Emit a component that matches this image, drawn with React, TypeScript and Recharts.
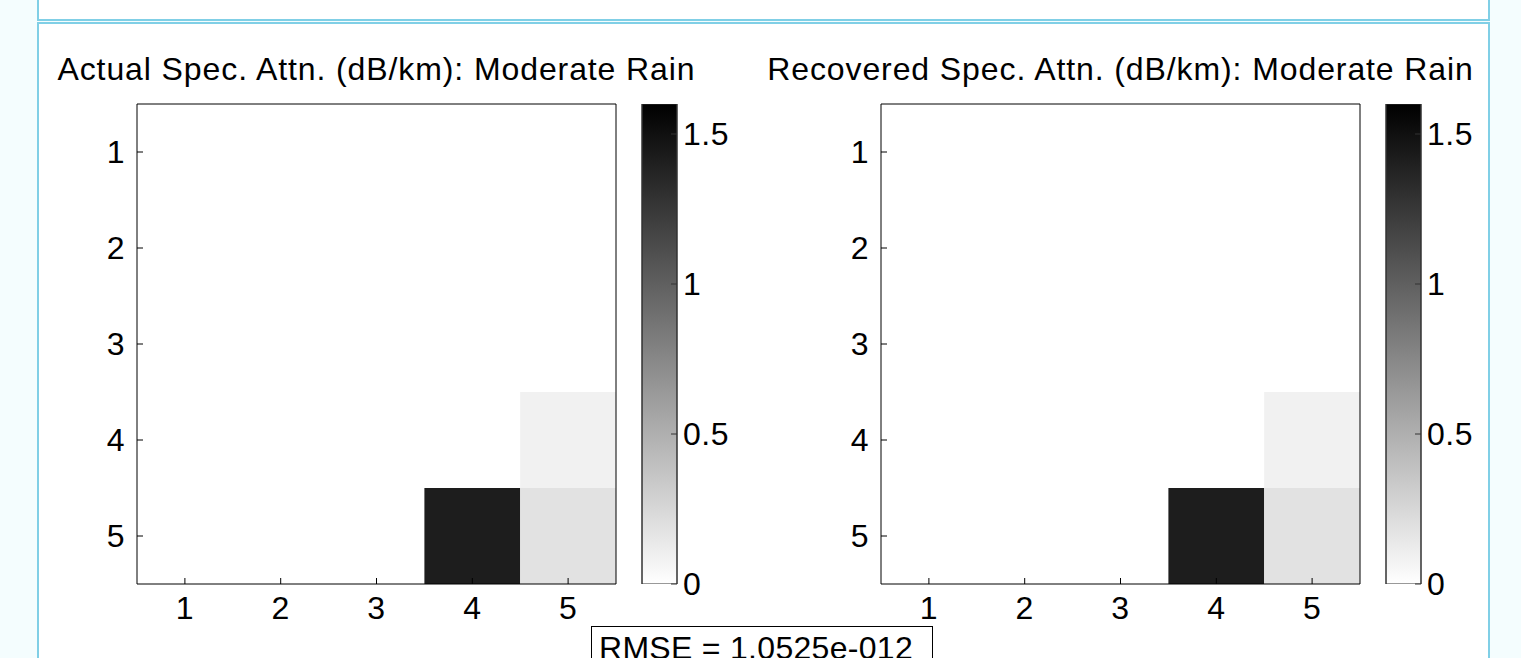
import React from 'react';
import {
  ScatterChart,
  Scatter,
  BarChart,
  Bar,
  XAxis,
  YAxis
} from 'recharts';

// grid positions (row = y index, col = x index)
const rowLabels = [1, 2, 3, 4, 5];
const colLabels = [1, 2, 3, 4, 5];

// specific attenuation (dB/km), rows top to bottom
const actualValues = [
  [0, 0, 0, 0, 0],
  [0, 0, 0, 0, 0],
  [0, 0, 0, 0, 0],
  [0, 0, 0, 0, 0.09],
  [0, 0, 0, 1.42, 0.18]
];

const recoveredValues = [
  [0, 0, 0, 0, 0],
  [0, 0, 0, 0, 0],
  [0, 0, 0, 0, 0],
  [0, 0, 0, 0, 0.09],
  [0, 0, 0, 1.42, 0.18]
];

// colour limits and colorbar ticks
const climMax = [1.6];
const colorbarTicks = [0, 0.5, 1, 1.5];

const rmseText = 'RMSE = 1.0525e-012';

const FONT = '"Liberation Sans", Arial, sans-serif';
const BLUE = '#80cfe6';

// plot box geometry
const PLOT_W = 479;
const PLOT_H = 480;
const CELL_W = PLOT_W / 5;
const CELL_H = PLOT_H / 5;
const MARGIN = { top: 103, right: 23, left: 77, bottom: 6 };

const gray = (v: number) => {
  const g = Math.round(255 * (1 - Math.min(v, climMax[0]) / climMax[0]));
  return `rgb(${g},${g},${g})`;
};

const toCells = (values: number[][]) =>
  values.flatMap((row, r) =>
    row.map((v, c) => ({ x: colLabels[c], y: rowLabels[r], v }))
  );

const tickStyle = { fontSize: 32, fill: '#000', fontFamily: FONT, letterSpacing: 0.5 };

const HeatCell = (props: any) => {
  const { cx, cy, payload } = props;
  return (
    <rect
      x={cx - CELL_W / 2}
      y={cy - CELL_H / 2}
      width={CELL_W}
      height={CELL_H}
      fill={gray(payload.v)}
      stroke="none"
    />
  );
};

// axes box drawn on its own so the cells do not hide the lines and ticks
const renderAxes = (visible: boolean) => [
  <XAxis
    key="b"
    xAxisId="b"
    dataKey="x"
    type="number"
    domain={[0.5, 5.5]}
    ticks={colLabels}
    orientation="bottom"
    height={50}
    tickSize={-6}
    tickMargin={18}
    tick={visible ? tickStyle : false}
    stroke="#000"
    axisLine={visible}
    tickLine={visible}
    allowDataOverflow
  />,
  <XAxis
    key="t"
    xAxisId="t"
    type="number"
    domain={[0.5, 5.5]}
    ticks={colLabels}
    orientation="top"
    height={1}
    tickSize={-6}
    tick={false}
    stroke="#000"
    axisLine={visible}
    tickLine={visible}
    allowDataOverflow
  />,
  <YAxis
    key="l"
    yAxisId="l"
    dataKey="y"
    type="number"
    domain={[0.5, 5.5]}
    ticks={rowLabels}
    reversed
    orientation="left"
    width={60}
    tickSize={-6}
    tickMargin={18}
    tick={visible ? tickStyle : false}
    stroke="#000"
    axisLine={visible}
    tickLine={visible}
    allowDataOverflow
  />,
  <YAxis
    key="r"
    yAxisId="r"
    type="number"
    domain={[0.5, 5.5]}
    ticks={rowLabels}
    reversed
    orientation="right"
    width={1}
    tickSize={-6}
    tick={false}
    stroke="#000"
    axisLine={visible}
    tickLine={visible}
    allowDataOverflow
  />
];

const Heatmap: React.FC<{ left: number; title: string; values: number[][] }> = ({ left, title, values }) => {
  const data = toCells(values);
  return (
    <>
      <div
        style={{
          position: 'absolute',
          left: left + 137 - 150,
          top: 49,
          width: PLOT_W + 300,
          textAlign: 'center',
          fontFamily: FONT,
          fontSize: 32,
          letterSpacing: 0.9,
          lineHeight: '40px',
          color: '#000',
          whiteSpace: 'nowrap'
        }}
      >
        {title}
      </div>
      <div style={{ position: 'absolute', left, top: 0 }}>
        <ScatterChart width={640} height={640} margin={MARGIN}>
          {renderAxes(false)}
          <Scatter
            data={data}
            xAxisId="b"
            yAxisId="l"
            shape={HeatCell}
            isAnimationActive={false}
          />
        </ScatterChart>
      </div>
      <div style={{ position: 'absolute', left, top: 0 }}>
        <ScatterChart width={640} height={640} margin={MARGIN}>
          {renderAxes(true)}
          <Scatter data={[]} xAxisId="b" yAxisId="l" isAnimationActive={false} />
        </ScatterChart>
      </div>
    </>
  );
};

const Colorbar: React.FC<{ left: number; id: string }> = ({ left, id }) => {
  const data = [{ name: 'cb', v: climMax[0] }];
  return (
    <div style={{ position: 'absolute', left, top: 0 }}>
      <BarChart
        width={160}
        height={640}
        data={data}
        margin={{ top: 104, right: 23, left: 41, bottom: 56 }}
        barCategoryGap={0}
        barGap={0}
      >
        <defs>
          <linearGradient id={id} x1="0" y1="0" x2="0" y2="1">
            <stop offset="0%" stopColor="#000" />
            <stop offset="100%" stopColor="#fff" />
          </linearGradient>
        </defs>
        <XAxis dataKey="name" hide />
        <Bar
          dataKey="v"
          yAxisId="r"
          fill={`url(#${id})`}
          stroke="#333"
          strokeWidth={1}
          isAnimationActive={false}
        />
        <YAxis
          yAxisId="l"
          type="number"
          domain={[0, climMax[0]]}
          ticks={colorbarTicks}
          orientation="left"
          width={1}
          tickSize={-6}
          tick={false}
          stroke="#333"
          allowDataOverflow
        />
        <YAxis
          yAxisId="r"
          type="number"
          domain={[0, climMax[0]]}
          ticks={colorbarTicks}
          orientation="right"
          width={60}
          tickSize={-6}
          tickMargin={12}
          tick={tickStyle}
          stroke="#333"
          allowDataOverflow
        />
      </BarChart>
    </div>
  );
};

const App: React.FC = () => {
  return (
    <div
      style={{
        position: 'fixed',
        left: 0,
        top: 0,
        width: 1521,
        height: 658,
        overflow: 'hidden',
        background: '#f4fdfe'
      }}
    >
      {/* top strip */}
      <div
        style={{
          position: 'absolute',
          left: 37,
          top: -2,
          width: 1453,
          height: 23,
          boxSizing: 'border-box',
          border: `2px solid ${BLUE}`,
          background: '#fff'
        }}
      />
      {/* main panel */}
      <div
        style={{
          position: 'absolute',
          left: 37,
          top: 22,
          width: 1453,
          height: 700,
          boxSizing: 'border-box',
          border: `2px solid ${BLUE}`,
          background: '#fff'
        }}
      />

      <Heatmap left={0} title="Actual Spec. Attn. (dB/km): Moderate Rain" values={actualValues} />
      <Colorbar left={600} id="cbLeft" />

      <Heatmap left={744} title="Recovered Spec. Attn. (dB/km): Moderate Rain" values={recoveredValues} />
      <Colorbar left={1344} id="cbRight" />

      {/* RMSE annotation */}
      <div
        style={{
          position: 'absolute',
          left: 591,
          top: 626,
          width: 342,
          height: 60,
          boxSizing: 'border-box',
          border: '1px solid #000',
          background: '#fff',
          fontFamily: FONT,
          fontSize: 32,
          letterSpacing: 0.3,
          lineHeight: '42px',
          paddingLeft: 7,
          color: '#000',
          whiteSpace: 'nowrap'
        }}
      >
        {rmseText}
      </div>
    </div>
  );
};

export default App;
